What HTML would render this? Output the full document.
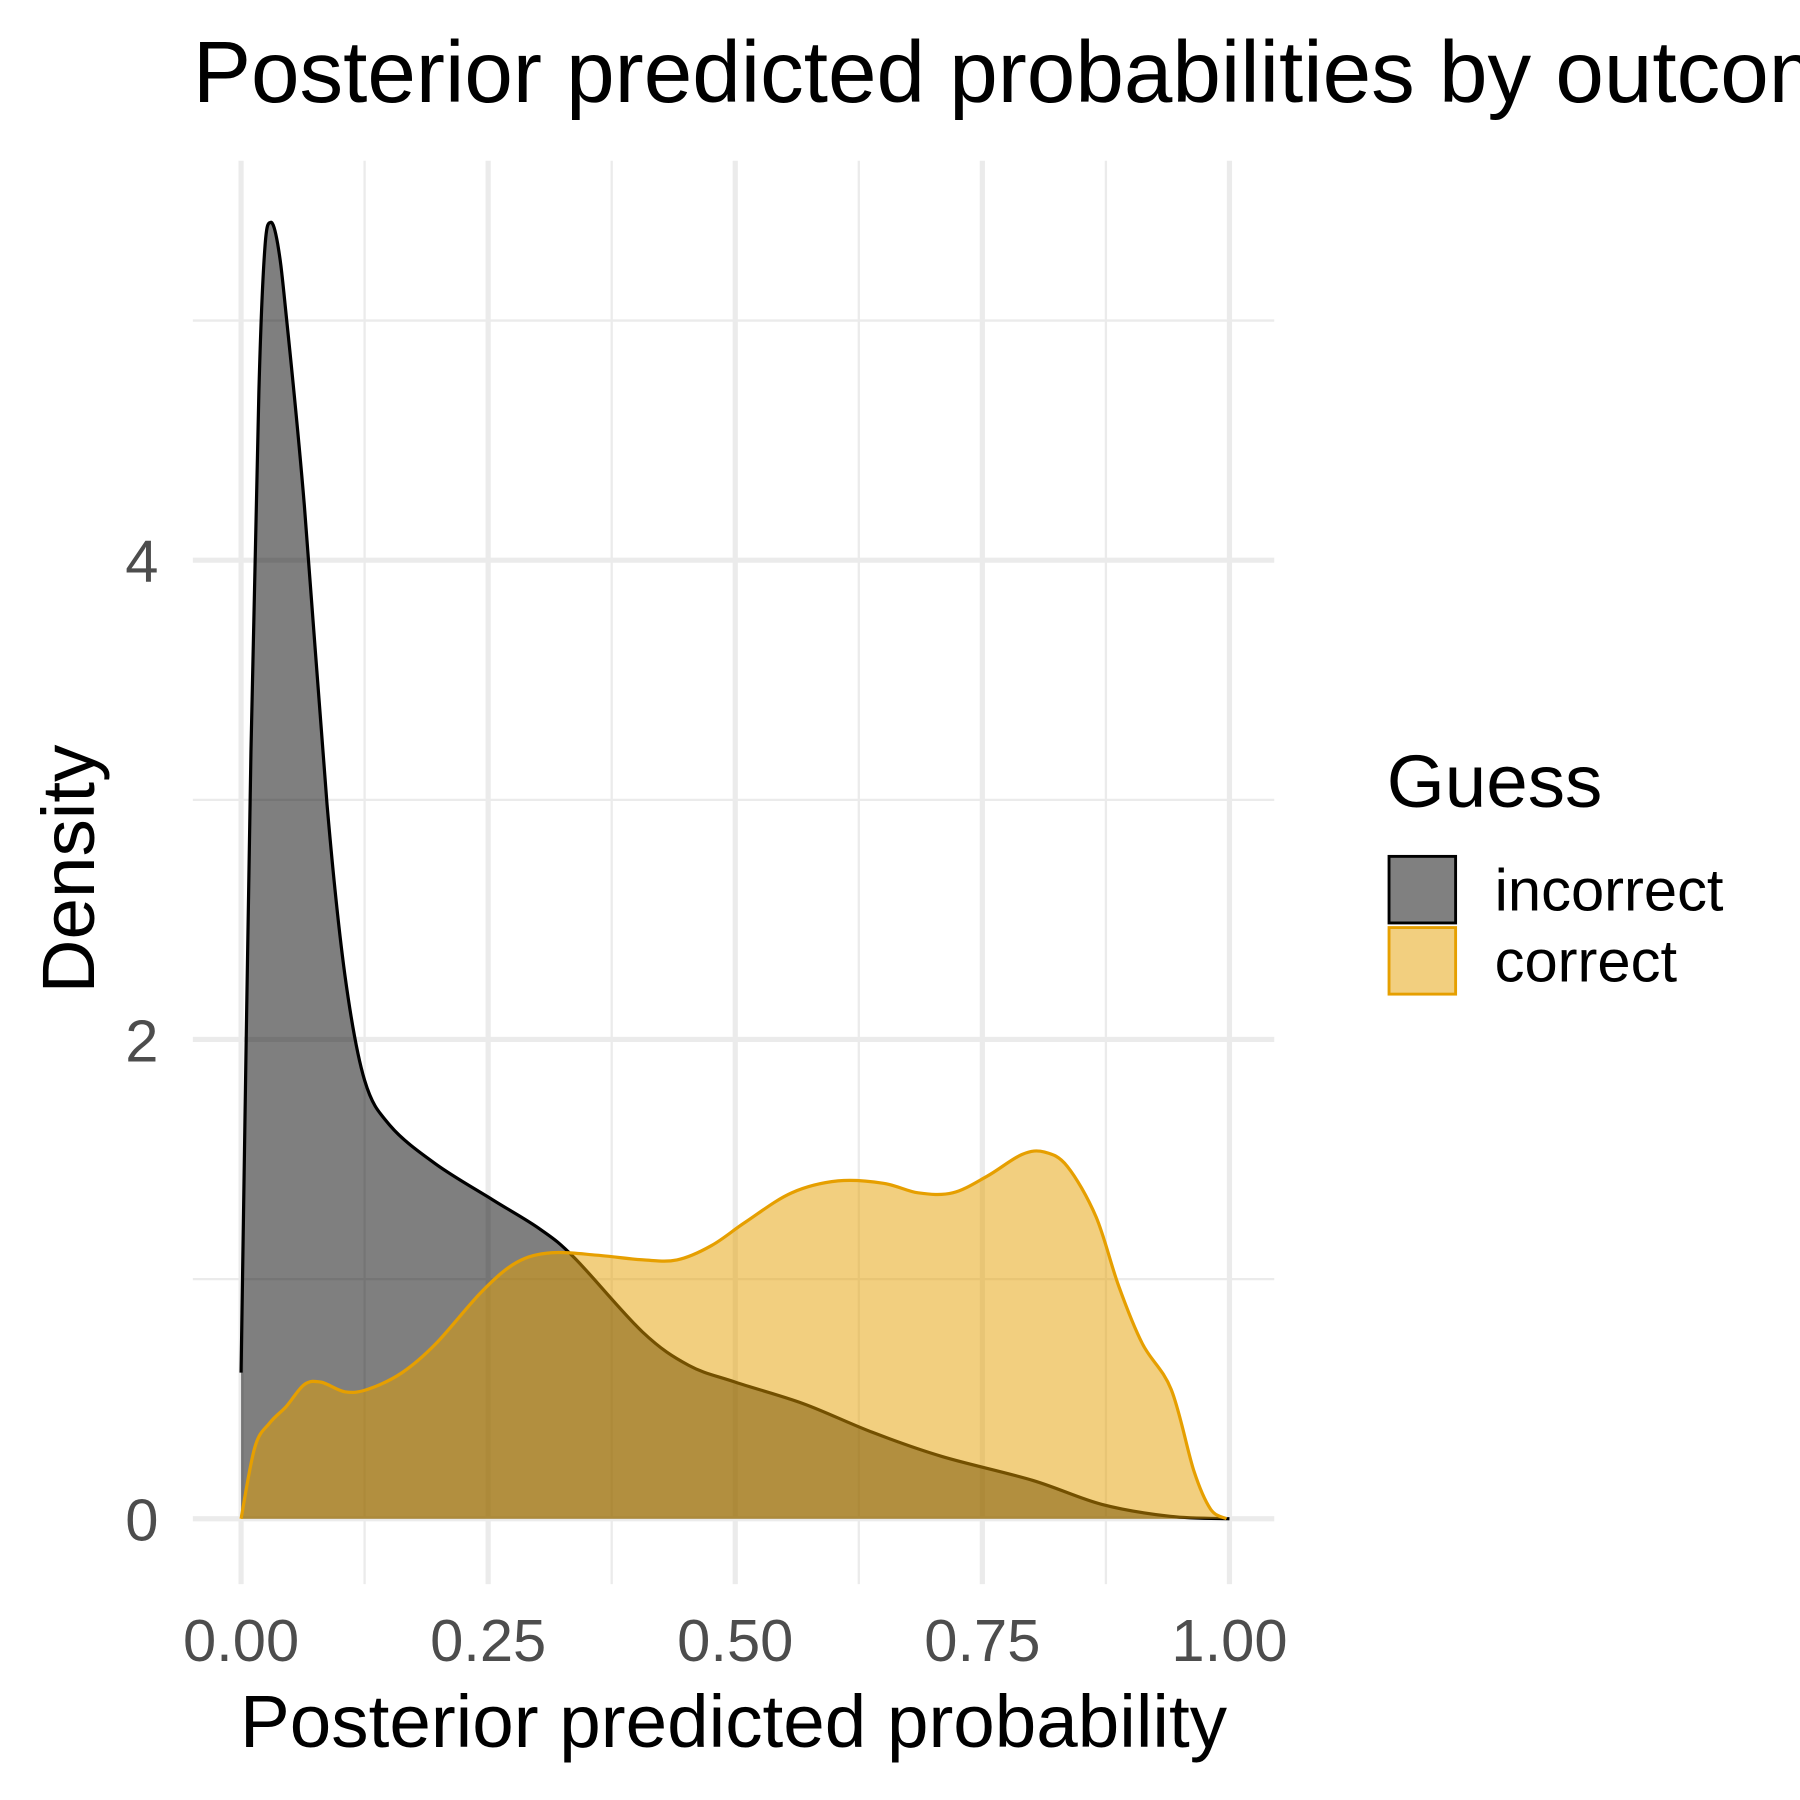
<!DOCTYPE html>
<html><head><meta charset="utf-8"><style>
html,body{margin:0;padding:0;background:#fff;}
svg{display:block;}
text{font-family:"Liberation Sans",Arial,sans-serif;}
</style></head><body>
<svg id="chart" width="1800" height="1800" viewBox="0 0 1568 1568" xmlns="http://www.w3.org/2000/svg">
<g id="grid"></g>
<g id="marks"></g>
<g id="axes"></g>
<text x="168" y="89" font-size="76" fill="#000">Posterior predicted probabilities by outcome</text>
<text x="639" y="1522" font-size="65" text-anchor="middle" fill="#000">Posterior predicted probability</text>
<text transform="translate(82,757) rotate(-90)" font-size="65" text-anchor="middle" fill="#000">Density</text>
<g>
<text x="1208" y="703" font-size="65" fill="#000">Guess</text>
<rect x="1210" y="746" width="58" height="58" fill="#808080" stroke="#000" stroke-width="2.5"/>
<text x="1302" y="793" font-size="52" fill="#000">incorrect</text>
<rect x="1210" y="808" width="58" height="58" fill="#f2cf7f" stroke="#E69F00" stroke-width="2.5"/>
<text x="1302" y="855" font-size="52" fill="#000">correct</text>
</g>
</svg>
<script>
const xTicks=[0,0.25,0.5,0.75,1.0];
const xTickLabels=["0.00","0.25","0.50","0.75","1.00"];
const yTicks=[0,2,4];
const yTickLabels=["0","2","4"];
const incorrectX=[0,0.010,0.018,0.024,0.030,0.037,0.045,0.064,0.087,0.105,0.125,0.151,0.197,0.255,0.302,0.337,0.406,0.453,0.5,0.569,0.639,0.709,0.801,0.871,0.940,1.0];
const incorrectY=[0.61,3.2,4.7,5.30,5.41,5.32,5.05,4.23,2.98,2.27,1.83,1.64,1.48,1.33,1.21,1.09,0.78,0.64,0.57,0.48,0.36,0.26,0.16,0.06,0.01,0.0];
const correctX=[0,0.014,0.029,0.046,0.064,0.081,0.105,0.128,0.163,0.197,0.244,0.279,0.314,0.360,0.407,0.441,0.476,0.511,0.557,0.604,0.650,0.685,0.720,0.755,0.790,0.813,0.836,0.865,0.888,0.912,0.941,0.964,0.981,0.997];
const correctY=[0.0,0.30,0.40,0.47,0.56,0.57,0.53,0.54,0.61,0.73,0.95,1.07,1.11,1.10,1.08,1.08,1.14,1.24,1.36,1.41,1.40,1.36,1.36,1.43,1.52,1.53,1.47,1.26,0.97,0.73,0.54,0.20,0.04,0.0];
const NS="http://www.w3.org/2000/svg";
const X=v=>210+v*861;
const Y=v=>1323-v*208.75;
function mk(tag,attrs,parent){const e=document.createElementNS(NS,tag);for(const k in attrs)e.setAttribute(k,attrs[k]);parent.appendChild(e);return e;}
const grid=document.getElementById('grid'),marks=document.getElementById('marks'),axes=document.getElementById('axes');
[0.125,0.375,0.625,0.875].forEach(v=>{const l=mk('line',{x1:X(v),x2:X(v),y1:140,y2:1380,stroke:'#ebebeb','stroke-width':2},grid);

});
[1,3,5].forEach(v=>{const l=mk('line',{x1:168,x2:1110,y1:Y(v),y2:Y(v),stroke:'#ebebeb','stroke-width':2},grid);

});
xTicks.forEach((v,i)=>{const l=mk('line',{x1:X(v),x2:X(v),y1:140,y2:1380,stroke:'#ebebeb','stroke-width':4.5},grid);


const t=mk('text',{x:X(v),y:1447,'font-size':52,fill:'#4d4d4d','text-anchor':'middle'},axes);t.textContent=xTickLabels[i];

});
yTicks.forEach((v,i)=>{const l=mk('line',{x1:168,x2:1110,y1:Y(v),y2:Y(v),stroke:'#ebebeb','stroke-width':4.5},grid);


const t=mk('text',{x:138,y:Y(v)+19,'font-size':52,fill:'#4d4d4d','text-anchor':'end'},axes);t.textContent=yTickLabels[i];

});
function smooth(pts){
 let d=`M${pts[0][0].toFixed(1)},${pts[0][1].toFixed(1)}`;
 for(let i=0;i<pts.length-1;i++){
  const p0=pts[i-1]||pts[i],p1=pts[i],p2=pts[i+1],p3=pts[i+2]||p2;
  const c1=[p1[0]+(p2[0]-p0[0])/6,p1[1]+(p2[1]-p0[1])/6];
  const c2=[p2[0]-(p3[0]-p1[0])/6,p2[1]-(p3[1]-p1[1])/6];
  d+=` C${c1[0].toFixed(1)},${c1[1].toFixed(1)} ${c2[0].toFixed(1)},${c2[1].toFixed(1)} ${p2[0].toFixed(1)},${p2[1].toFixed(1)}`;
 }
 return d;
}
function series(xs,ys,fill,stroke,name){
 const pts=xs.map((x,i)=>[X(x),Y(ys[i])]);
 const d=smooth(pts);
 const a=mk('path',{d:d+` L${X(xs[xs.length-1])},${Y(0)} L${X(xs[0])},${Y(0)} Z`,fill:fill,stroke:'none'},marks);
 
 
 const l=mk('path',{d:d,fill:'none',stroke:stroke,'stroke-width':2.8,'stroke-linejoin':'round'},marks);
 
 
}
series(incorrectX,incorrectY,'rgba(0,0,0,0.5)','#000','incorrect');
series(correctX,correctY,'rgba(230,159,0,0.5)','#E69F00','correct');
</script>
</body></html>
